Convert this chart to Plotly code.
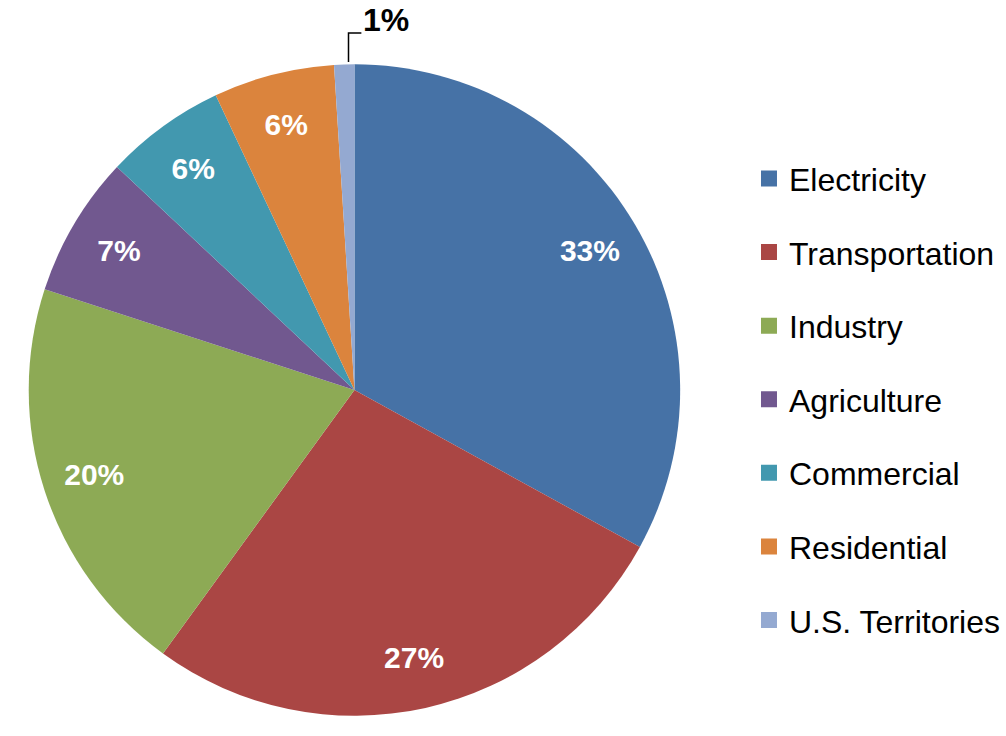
import plotly.graph_objects as go

sectors = ["Electricity", "Transportation", "Industry", "Agriculture",
           "Commercial", "Residential", "U.S. Territories"]
shares = [33, 27, 20, 7, 6, 6, 1]
colors = ["#4672A6", "#AA4644", "#8DAA55", "#71588F", "#4298AF", "#DB843D", "#94A9D1"]

W, H = 1006, 736
cx, cy, r = 358, 390, 329

dom = dict(x=[(cx - r) / W, (cx + r) / W], y=[1 - (cy + r) / H, 1 - (cy - r) / H])
lbl_font = dict(family="Liberation Sans", size=30, color="white", weight="bold")

fig = go.Figure()
# base coloured pie (no text)
fig.add_trace(go.Pie(
    labels=sectors, values=shares, sort=False, direction="clockwise", rotation=0,
    marker=dict(colors=colors, line=dict(width=0)),
    textinfo="none", showlegend=False, hoverinfo="label+percent",
    automargin=False, domain=dom,
))
# transparent donut carrying the labels near the rim
ring_text = ["%{percent:.0%}"] * (len(sectors) - 1) + [""]
fig.add_trace(go.Pie(
    labels=sectors, values=shares, sort=False, direction="clockwise", rotation=0,
    hole=0.68,
    marker=dict(colors=["rgba(0,0,0,0)"] * len(sectors), line=dict(width=0)),
    texttemplate=ring_text, textposition="inside",
    insidetextorientation="horizontal", insidetextfont=lbl_font,
    showlegend=False, hoverinfo="skip",
    automargin=False, domain=dom,
))

# small-slice label with leader line
fig.add_annotation(
    x=365 / W, y=1 - 20 / H, xref="paper", yref="paper", xanchor="left", yanchor="middle",
    text=f"<b>{shares[-1]}%</b>", showarrow=False,
    font=dict(family="Liberation Sans", size=32, color="black"),
)
fig.add_shape(
    type="path", xref="paper", yref="paper",
    path=f"M {352/W},{1-62/H} L {352/W},{1-33/H} L {365/W},{1-33/H}",
    line=dict(color="black", width=1.5),
)

for i, (name, col) in enumerate(zip(sectors, colors)):
    fig.add_trace(go.Scatter(
        x=[None], y=[None], mode="markers", name=name,
        marker=dict(symbol="square", size=17, color=col),
        legendgroup=f"g{i}", showlegend=True,
    ))

fig.update_layout(
    width=W, height=H,
    margin=dict(l=0, r=0, t=0, b=0),
    paper_bgcolor="white", plot_bgcolor="white",
    xaxis=dict(visible=False), yaxis=dict(visible=False),
    legend=dict(
        x=0.752, y=0.457, xanchor="left", yanchor="middle",
        font=dict(family="Liberation Sans", size=32, color="black"),
        tracegroupgap=29, itemwidth=30, bgcolor="rgba(0,0,0,0)",
    ),
)

fig.write_html(
    "out.html",
    config={"displayModeBar": False},
    post_script="document.body.style.margin='0';document.body.style.overflow='hidden';",
)
